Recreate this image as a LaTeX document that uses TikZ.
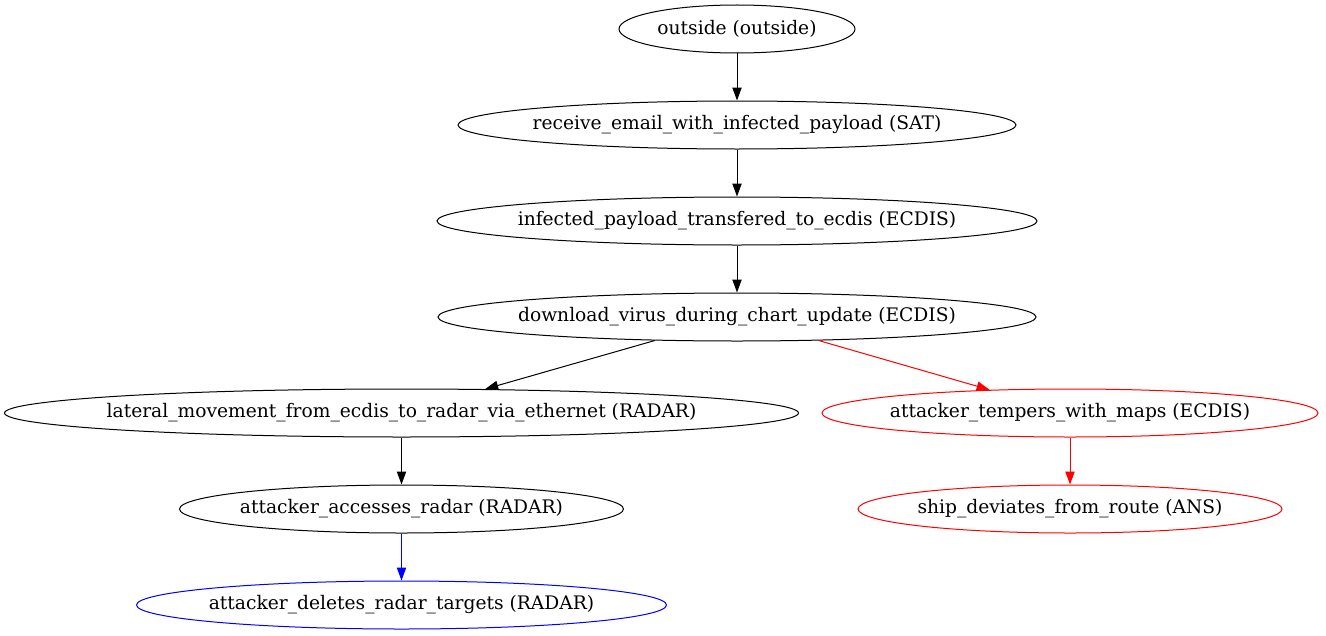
\documentclass[tikz,border=0pt]{standalone}
\usepackage{fontspec}
\setmainfont{DejaVu Serif}
\usetikzlibrary{shapes.geometric,arrows.meta}

\tikzset{
  stage/.style={draw, ellipse, inner xsep=-40pt, inner ysep=0pt, minimum height=36pt,
    font=\fontsize{14}{17}\selectfont, line width=0.75pt},
  link/.style={-{Triangle[length=9.75pt,width=7pt]}, line width=0.75pt},
}

\begin{document}
\begin{tikzpicture}[x=0.75pt,y=-0.75pt]
      \useasboundingbox (0,0) rectangle (1326,635);
      % main chain
      \node[stage, minimum width=177pt] (outside) at (737,29) {outside (outside)};
      \node[stage, minimum width=418.5pt] (email) at (737,125) {receive\_email\_with\_infected\_payload (SAT)};
      \node[stage, minimum width=450pt] (transfer) at (737,221) {infected\_payload\_transfered\_to\_ecdis (ECDIS)};
      \node[stage, minimum width=448.5pt] (download) at (737,317) {download\_virus\_during\_chart\_update (ECDIS)};
      % radar branch
      \node[stage, minimum width=595.5pt] (lateral) at (401.5,413) {lateral\_movement\_from\_ecdis\_to\_radar\_via\_ethernet (RADAR)};
      \node[stage, minimum width=333pt] (access) at (401.5,509) {attacker\_accesses\_radar (RADAR)};
      \node[stage, draw=blue, minimum width=397.5pt] (delete) at (401.5,605) {attacker\_deletes\_radar\_targets (RADAR)};
      % maps branch
      \node[stage, draw=red, minimum width=372pt] (tamper) at (1070,413) {attacker\_tempers\_with\_maps (ECDIS)};
      \node[stage, draw=red, minimum width=318pt] (deviate) at (1070,509) {ship\_deviates\_from\_route (ANS)};

      \draw[link] (outside) -- (email);
      \draw[link] (email) -- (transfer);
      \draw[link] (transfer) -- (download);
      \draw[link] (download) -- (lateral);
      \draw[link] (lateral) -- (access);
      \draw[link, blue] (access) -- (delete);
      \draw[link, red] (download) -- (tamper);
      \draw[link, red] (tamper) -- (deviate);
    \end{tikzpicture}
\end{document}
